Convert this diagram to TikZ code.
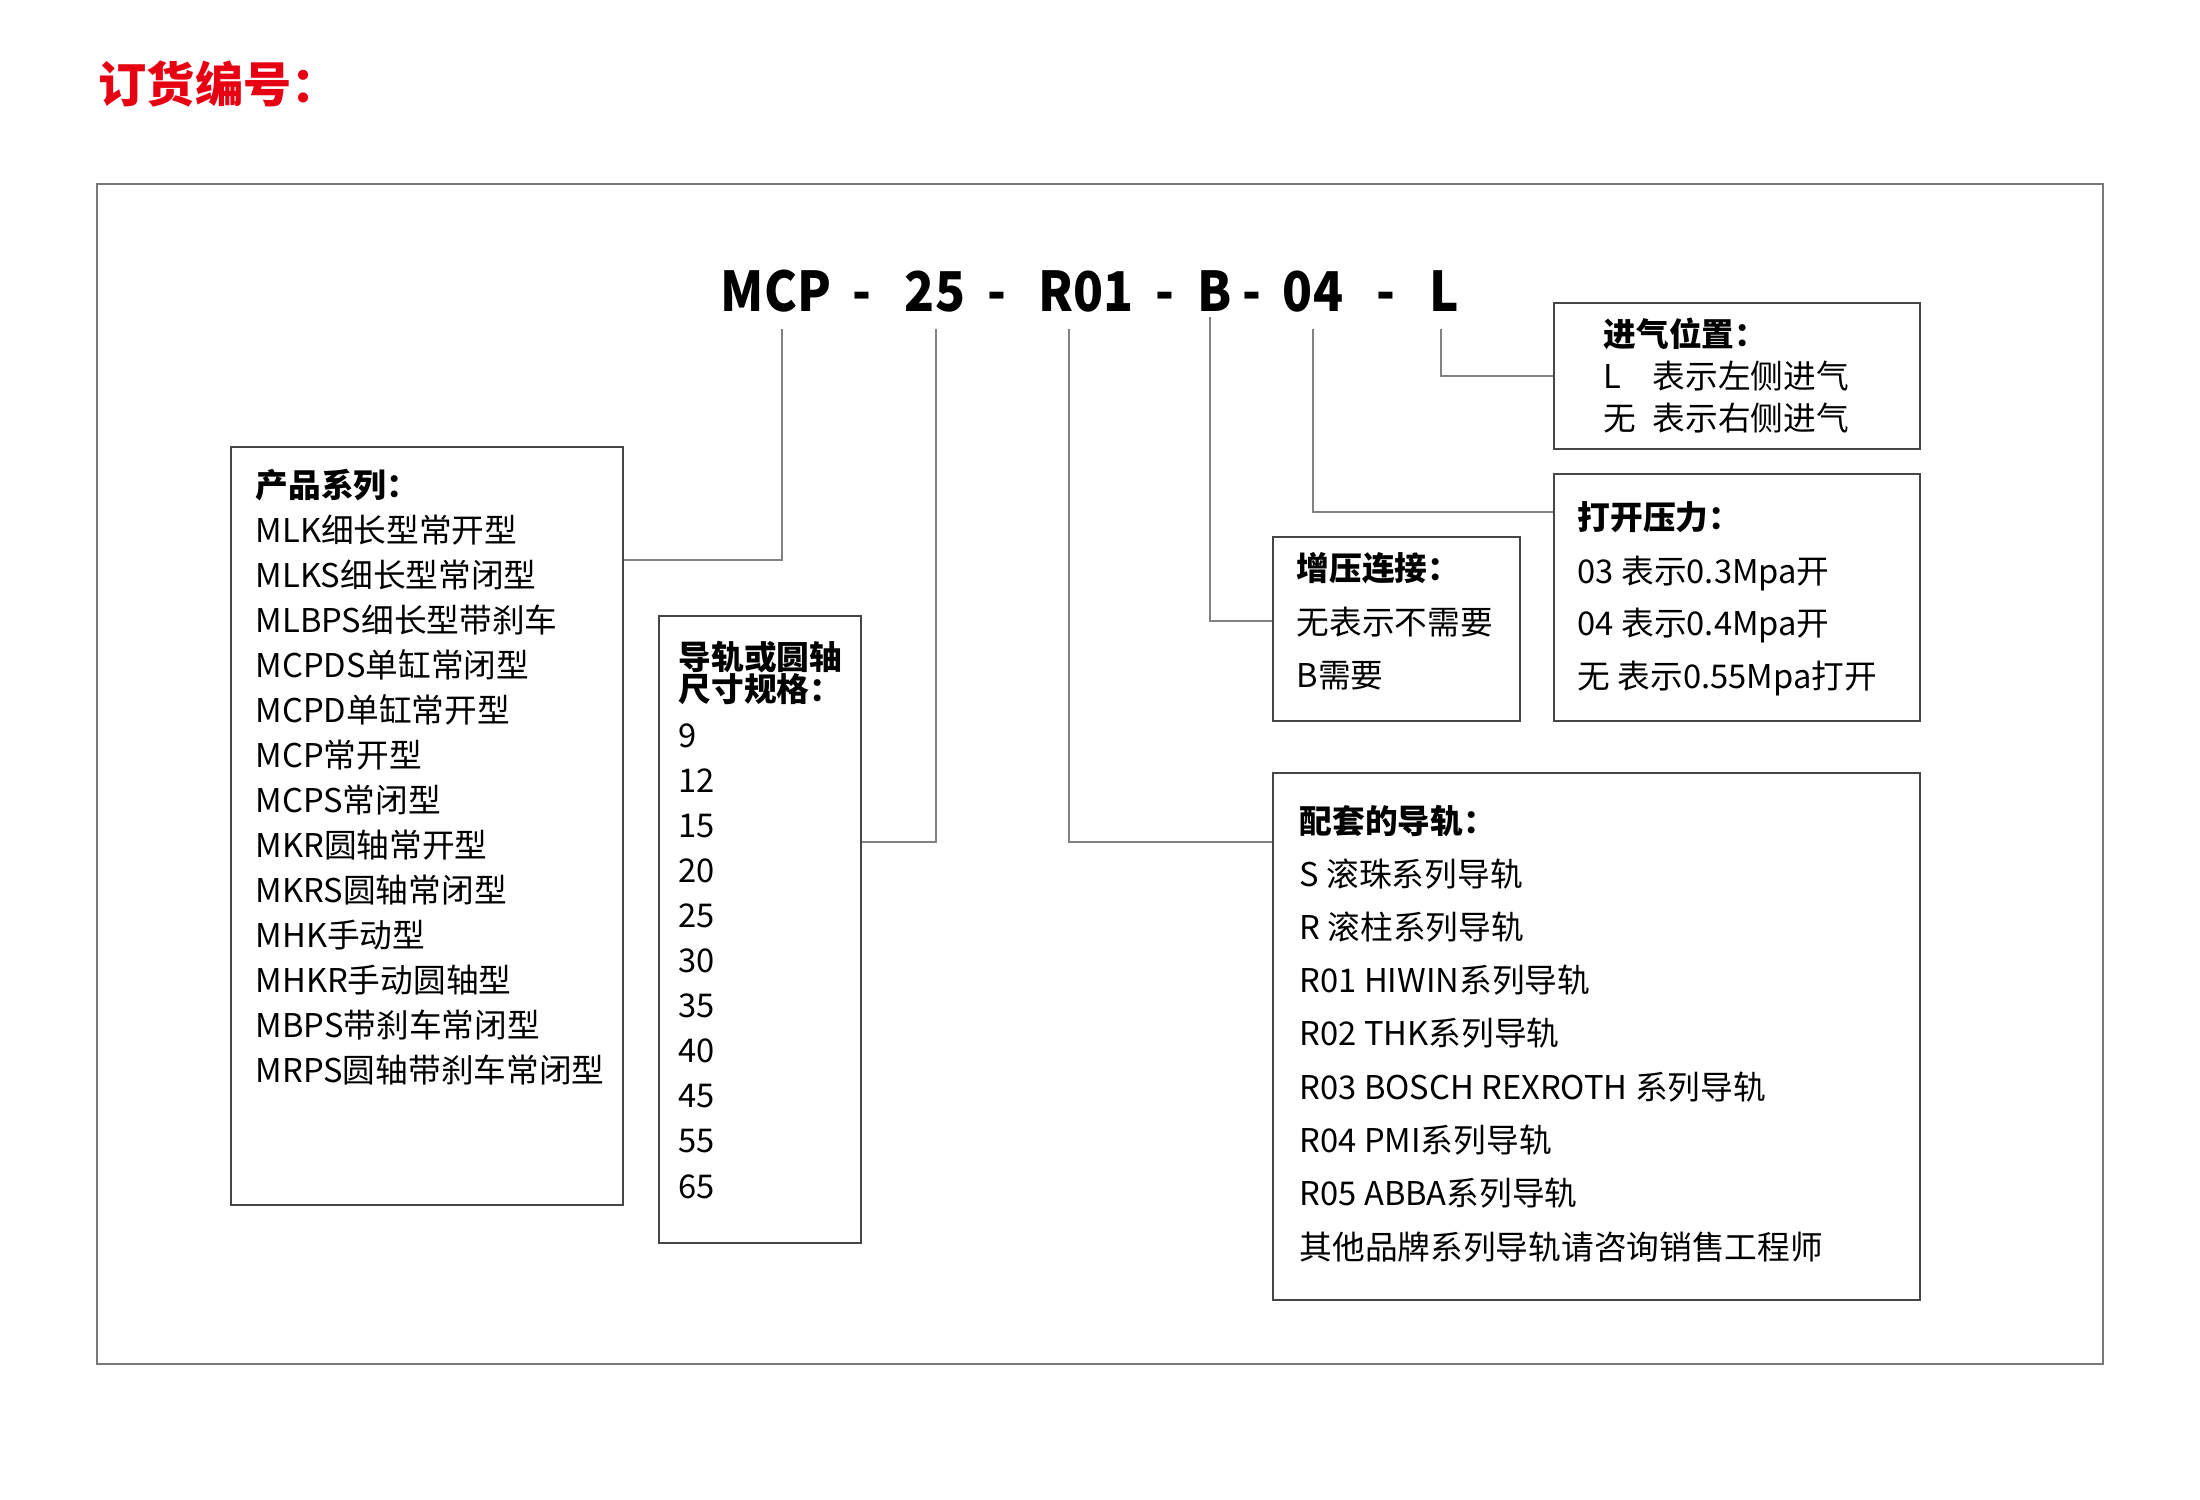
\documentclass[tikz,border=0pt]{standalone}
\usepackage{fontspec}
\setmainfont{Noto Sans CJK SC}
\newfontfamily\codefont[FakeStretch=0.9]{Noto Sans CJK SC}
\usetikzlibrary{positioning}
\definecolor{titlered}{RGB}{230,0,18}
\definecolor{boxgray}{RGB}{70,70,70}
\definecolor{leadgray}{RGB}{130,130,130}
\definecolor{framegray}{RGB}{120,120,120}

\tikzset{
  box/.style={draw=boxgray, line width=0.45pt, anchor=north west, inner sep=0pt},
  item/.style={anchor=base west, inner sep=0pt, font=\fontsize{9.3}{11}\selectfont},
  head/.style={item, font=\fontsize{9.3}{11}\selectfont\bfseries},
  code/.style={anchor=base, inner sep=0pt, font=\codefont\fontsize{15.6}{18}\selectfont\bfseries},
  lead/.style={leadgray, line width=0.4pt},
}

\begin{document}
\begin{tikzpicture}[x=0.01cm, y=-0.01cm]
  \useasboundingbox (0,0) rectangle (2200,1500);
  \node[anchor=base west, inner sep=0pt, text=titlered, font=\fontsize{13.7}{16}\selectfont\bfseries] (title) at (98,103) {订货编号：};
  \draw[framegray, line width=0.45pt] (97,184) rectangle (2103,1364);

  % order code
  \node[code] (mcp) at (776,311) {MCP};
  \node[code] (dash1) at (862,311) {-};
  \node[code] (size) at (935,311) {25};
  \node[code] (dash2) at (997,311) {-};
  \node[code] (rail) at (1086,311) {R01};
  \node[code] (dash3) at (1165,311) {-};
  \node[code] (boost) at (1215,311) {B};
  \node[code] (dash4) at (1252,311) {-};
  \node[code] (press) at (1313,311) {04};
  \node[code] (dash5) at (1386,311) {-};
  \node[code] (side) at (1444,311) {L};

  % boxes
  \node[box, minimum width=3.92cm, minimum height=7.58cm] (prodbox) at (230,446) {};
  \node[box, minimum width=2.02cm, minimum height=6.27cm] (sizebox) at (658,615) {};
  \node[box, minimum width=3.66cm, minimum height=1.46cm] (sidebox) at (1553,302) {};
  \node[box, minimum width=3.66cm, minimum height=2.47cm] (pressbox) at (1553,473) {};
  \node[box, minimum width=2.47cm, minimum height=1.84cm] (boostbox) at (1272,536) {};
  \node[box, minimum width=6.47cm, minimum height=5.27cm] (railbox) at (1272,772) {};

  % product series
  \node[head] (prod-head) at (255,497) {产品系列：};
  \foreach \txt [count=\i from 0] in {MLK细长型常开型, MLKS细长型常闭型, MLBPS细长型带刹车,
      MCPDS单缸常闭型, MCPD单缸常开型, MCP常开型, MCPS常闭型, MKR圆轴常开型,
      MKRS圆轴常闭型, MHK手动型, MHKR手动圆轴型, MBPS带刹车常闭型, MRPS圆轴带刹车常闭型}
    \node[item] (prod-\i) at (255,{542+45*\i}) {\txt};

  % size
  \node[head] (size-head1) at (678,669) {导轨或圆轴};
  \node[head] (size-head2) at (678,701) {尺寸规格：};
  \foreach \txt [count=\i from 0] in {9,12,15,20,25,30,35,40,45,55,65}
    \node[item] (size-\i) at (678,{747+45.1*\i}) {\txt};

  % air inlet side
  \node[head] (side-head) at (1603,346) {进气位置：};
  \node[item] (side-1) at (1603,388) {\makebox[1.5em][l]{L}表示左侧进气};
  \node[item] (side-2) at (1603,430) {\makebox[1.5em][l]{无}表示右侧进气};

  % opening pressure
  \node[head] (press-head) at (1577,529) {打开压力：};
  \node[item] (press-1) at (1577,583) {03 表示0.3Mpa开};
  \node[item] (press-2) at (1577,635) {04 表示0.4Mpa开};
  \node[item] (press-3) at (1577,688) {无 表示0.55Mpa打开};

  % boost
  \node[head] (boost-head) at (1296,580) {增压连接：};
  \node[item] (boost-1) at (1296,634) {无表示不需要};
  \node[item] (boost-2) at (1296,687) {B需要};

  % rails
  \node[head] (rail-head) at (1299,833) {配套的导轨：};
  \foreach \txt [count=\i from 0] in {S 滚珠系列导轨, R 滚柱系列导轨, R01 HIWIN系列导轨,
      R02 THK系列导轨, R03 BOSCH REXROTH 系列导轨, R04 PMI系列导轨,
      R05 ABBA系列导轨, 其他品牌系列导轨请咨询销售工程师}
    \node[item] (rail-\i) at (1299,{886+53.3*\i}) {\txt};

  % leads
  \coordinate (mcp-foot) at (782,329);
  \coordinate (mcp-tap) at (782,560);
  \draw[lead] (mcp-foot) -- (mcp-tap) -- (mcp-tap -| prodbox.east);
  \coordinate (size-foot) at (936,329);
  \coordinate (size-tap) at (936,842);
  \draw[lead] (size-foot) -- (size-tap) -- (size-tap -| sizebox.east);
  \coordinate (rail-foot) at (1069,329);
  \coordinate (rail-tap) at (1069,842);
  \draw[lead] (rail-foot) -- (rail-tap) -- (rail-tap -| railbox.west);
  \coordinate (boost-foot) at (1210,317);
  \coordinate (boost-tap) at (1210,621);
  \draw[lead] (boost-foot) -- (boost-tap) -- (boost-tap -| boostbox.west);
  \coordinate (press-foot) at (1313,329);
  \coordinate (press-tap) at (1313,512);
  \draw[lead] (press-foot) -- (press-tap) -- (press-tap -| pressbox.west);
  \coordinate (side-foot) at (1441,329);
  \coordinate (side-tap) at (1441,376);
  \draw[lead] (side-foot) -- (side-tap) -- (side-tap -| sidebox.west);
\end{tikzpicture}
\end{document}
